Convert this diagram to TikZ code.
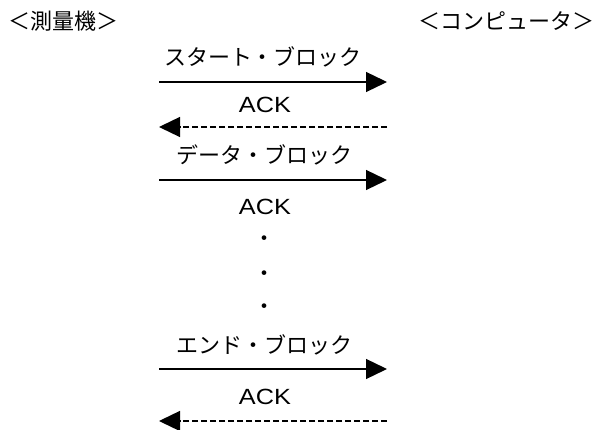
\documentclass[tikz,border=0pt]{standalone}
\usepackage{fontspec}
\setmainfont{Noto Sans CJK JP}
\newfontfamily\latinfont[FakeStretch=1.15]{Liberation Sans}
\usetikzlibrary{arrows.meta}
\tikzset{
  lbl/.style={inner sep=0pt, font=\fontsize{22}{24}\selectfont},
  acklbl/.style={inner sep=0pt, font=\latinfont\fontsize{22}{24}\selectfont},
  msg/.style={line width=1.3pt, -{Triangle[length=21pt,width=20pt]}},
  ackmsg/.style={msg, dash pattern=on 6pt off 3pt},
}
\begin{document}
\begin{tikzpicture}[x=1pt,y=-1pt]
\useasboundingbox (0,0) rectangle (598,430);
\node[lbl] (hl) at (64,21) {＜測量機＞};
\node[lbl] (hr) at (506,21) {＜コンピュータ＞};
% start block
\node[lbl] (t1) at (263,57) {スタート・ブロック};
\coordinate (a1l) at (159,82);
\coordinate (a1r) at (387,82);
\draw[msg] (a1l) -- (a1r);
\node[acklbl] (k1) at (265,105) {ACK};
\coordinate (b1l) at (159,127);
\coordinate (b1r) at (387,127);
\draw[ackmsg] (b1r) -- (b1l);
% data block
\node[lbl] (t2) at (264,155) {データ・ブロック};
\coordinate (a2l) at (159,180);
\coordinate (a2r) at (387,180);
\draw[msg] (a2l) -- (a2r);
\node[acklbl] (k2) at (265,207) {ACK};
% dots
\node[lbl] (d1) at (264,241) {・};
\node[lbl] (d2) at (264,276) {・};
\node[lbl] (d3) at (264,309) {・};
% end block
\node[lbl] (t3) at (264,345) {エンド・ブロック};
\coordinate (a3l) at (159,369);
\coordinate (a3r) at (387,369);
\draw[msg] (a3l) -- (a3r);
\node[acklbl] (k3) at (265,397) {ACK};
\coordinate (b3l) at (159,421);
\coordinate (b3r) at (387,421);
\draw[ackmsg] (b3r) -- (b3l);
\end{tikzpicture}
\end{document}
